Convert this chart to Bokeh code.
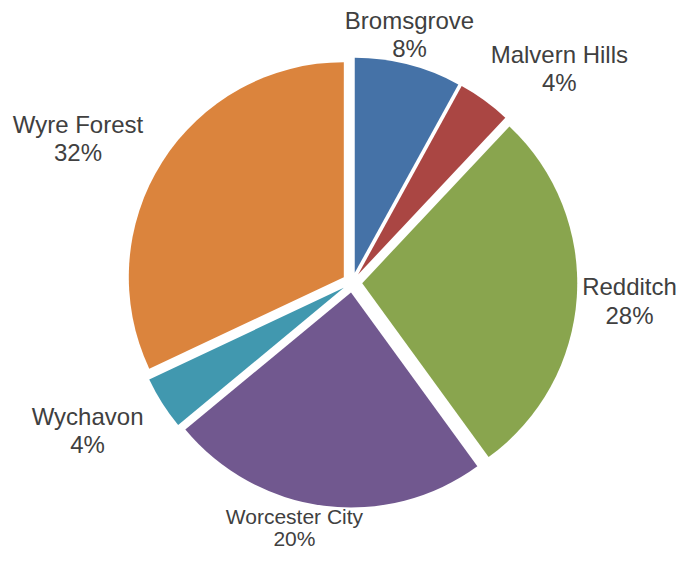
import math
from bokeh.plotting import figure
from bokeh.models import ColumnDataSource, Range1d
from bokeh.core.properties import value
from bokeh.embed import file_html
from bokeh.resources import INLINE

# ---- data ----
districts = ["Bromsgrove", "Malvern Hills", "Redditch", "Worcester City", "Wychavon", "Wyre Forest"]
shares = [8, 4, 28, 24, 4, 32]                      # slice sizes as drawn
pct_labels = ["8%", "4%", "28%", "20%", "4%", "32%"]  # percentages as printed
colors = ["#4572A7", "#AA4643", "#89A54E", "#71588F", "#4198AF", "#DB843D"]

# ---- layout / style ----
W, H = 678, 552
CX, CY = 351.75, 270.0      # pie centre (px)
R = 215.0                   # radius (px)
EXPLODE = 10.0              # slice offset (px)
label_dist = [254.5, 297.6, 277.9, 253.2, 303.5, 309.8]
label_turn = [1.4, -8.1, -0.3, -6.0, -3.1, 4.7]      # degrees off slice mid-angle
label_size = [24, 24, 24, 21, 24, 24]
label_lead = [1.17, 1.17, 1.17, 1.04, 1.17, 1.17]
TEXT_NUDGE = 9.0
TEXT_COLOR = "#404040"
FONT = "Liberation Sans"

total = float(sum(shares))
starts, ends, xs, ys = [], [], [], []
l1x, l1y, l2y, fs = [], [], [], []
cum = 0.0
for i, s in enumerate(shares):
    a0 = math.pi / 2 - 2 * math.pi * cum / total
    cum += s
    a1 = math.pi / 2 - 2 * math.pi * cum / total
    mid = (a0 + a1) / 2
    starts.append(a0)
    ends.append(a1)
    xs.append(CX + EXPLODE * math.cos(mid))
    ys.append(CY + EXPLODE * math.sin(mid))
    la = mid + math.radians(label_turn[i])
    ax = CX + label_dist[i] * math.cos(la)
    ay = CY + label_dist[i] * math.sin(la) + TEXT_NUDGE
    size = label_size[i]
    gap = size * label_lead[i]
    cap = size * 0.716
    l1x.append(ax)
    l1y.append(ay + gap / 2 - cap / 2)
    l2y.append(ay - gap / 2 - cap / 2)
    fs.append(f"{size}px")

src = ColumnDataSource(dict(x=xs, y=ys, start=starts, end=ends, color=colors,
                            name=districts, pct=pct_labels, lx=l1x, ly1=l1y, ly2=l2y, fs=fs))

p = figure(width=W, height=H, x_range=Range1d(0, W), y_range=Range1d(0, H),
           output_backend="svg", toolbar_location=None, min_border=0)
p.axis.visible = False
p.grid.visible = False
p.outline_line_color = None
p.background_fill_color = "white"
p.border_fill_color = "white"

p.wedge(x="x", y="y", radius=R, start_angle="start", end_angle="end",
        direction="clock", fill_color="color", line_color=None, source=src)

p.text(x="lx", y="ly1", text="name", text_font=value(FONT), text_font_size="fs",
       text_color=TEXT_COLOR, text_align="center", text_baseline="alphabetic", source=src)
p.text(x="lx", y="ly2", text="pct", text_font=value(FONT), text_font_size="fs",
       text_color=TEXT_COLOR, text_align="center", text_baseline="alphabetic", source=src)

open("out.html", "w").write(file_html(p, INLINE))
